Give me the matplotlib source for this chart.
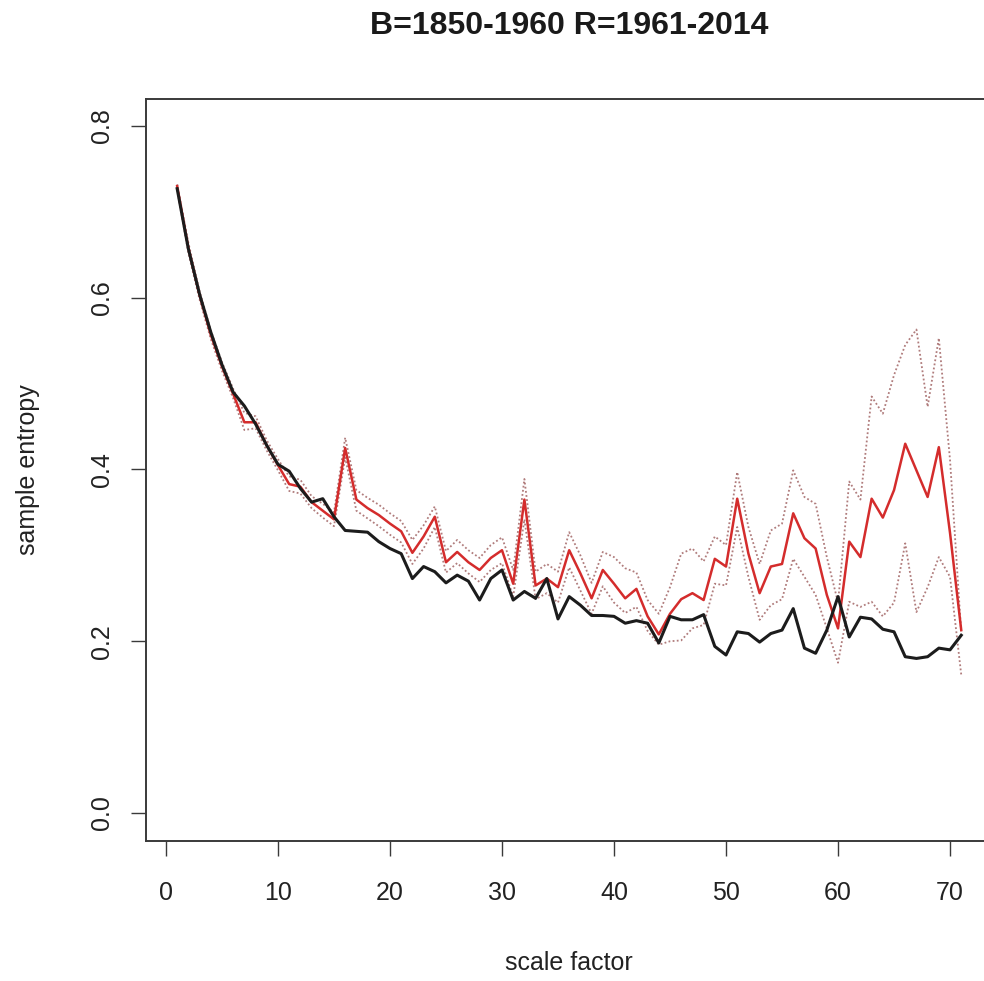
import matplotlib
matplotlib.use('Agg')
import matplotlib.pyplot as plt

# scale factors 1..71
scale = list(range(1, 72))

# black curve (B = 1850-1960)
black_se = [0.727, 0.657, 0.604, 0.560, 0.522, 0.490, 0.474, 0.453, 0.428, 0.406,
            0.398, 0.378, 0.362, 0.366, 0.345, 0.329, 0.328, 0.327, 0.316, 0.308,
            0.302, 0.273, 0.287, 0.281, 0.268, 0.277, 0.270, 0.248, 0.273, 0.283,
            0.248, 0.258, 0.250, 0.273, 0.226, 0.252, 0.242, 0.230, 0.230, 0.229,
            0.221, 0.224, 0.221, 0.198, 0.229, 0.225, 0.225, 0.231, 0.194, 0.184,
            0.211, 0.209, 0.199, 0.209, 0.213, 0.238, 0.192, 0.186, 0.213, 0.252,
            0.205, 0.228, 0.226, 0.214, 0.211, 0.182, 0.180, 0.182, 0.192, 0.190,
            0.207]

# red curve (R = 1961-2014)
red_se = [0.730, 0.658, 0.603, 0.557, 0.520, 0.488, 0.455, 0.455, 0.428, 0.405,
          0.383, 0.380, 0.362, 0.352, 0.342, 0.425, 0.365, 0.355, 0.347, 0.337,
          0.328, 0.303, 0.322, 0.345, 0.292, 0.304, 0.292, 0.283, 0.297, 0.306,
          0.267, 0.365, 0.265, 0.273, 0.263, 0.306, 0.279, 0.250, 0.283, 0.267,
          0.250, 0.261, 0.229, 0.208, 0.232, 0.249, 0.256, 0.248, 0.296, 0.287,
          0.366, 0.302, 0.256, 0.287, 0.290, 0.349, 0.320, 0.308, 0.254, 0.215,
          0.316, 0.298, 0.366, 0.344, 0.376, 0.430, 0.399, 0.368, 0.426, 0.326,
          0.213]

# dotted bands round the red curve
red_upper = [0.732, 0.664, 0.608, 0.562, 0.525, 0.494, 0.466, 0.462, 0.434, 0.412,
             0.392, 0.388, 0.369, 0.360, 0.350, 0.437, 0.376, 0.367, 0.359, 0.349,
             0.340, 0.318, 0.335, 0.357, 0.305, 0.318, 0.306, 0.297, 0.312, 0.321,
             0.283, 0.389, 0.281, 0.290, 0.281, 0.327, 0.300, 0.268, 0.304, 0.298,
             0.285, 0.280, 0.248, 0.232, 0.263, 0.302, 0.308, 0.293, 0.322, 0.312,
             0.397, 0.333, 0.290, 0.329, 0.337, 0.399, 0.368, 0.360, 0.298, 0.245,
             0.386, 0.365, 0.485, 0.465, 0.510, 0.545, 0.563, 0.473, 0.553, 0.411,
             0.210]
red_lower = [0.726, 0.652, 0.598, 0.552, 0.515, 0.483, 0.446, 0.448, 0.422, 0.399,
             0.375, 0.372, 0.355, 0.344, 0.334, 0.414, 0.352, 0.343, 0.334, 0.324,
             0.315, 0.290, 0.308, 0.333, 0.280, 0.291, 0.279, 0.269, 0.283, 0.291,
             0.252, 0.342, 0.249, 0.256, 0.245, 0.286, 0.259, 0.232, 0.264, 0.245,
             0.233, 0.240, 0.212, 0.196, 0.200, 0.201, 0.215, 0.219, 0.267, 0.265,
             0.333, 0.275, 0.225, 0.242, 0.249, 0.296, 0.275, 0.254, 0.215, 0.175,
             0.246, 0.240, 0.246, 0.229, 0.245, 0.314, 0.234, 0.263, 0.298, 0.275,
             0.161]

x_ticks = [0, 10, 20, 30, 40, 50, 60, 70]
y_ticks = [0.0, 0.2, 0.4, 0.6, 0.8]

plt.rcParams['font.family'] = ['Liberation Sans', 'DejaVu Sans']

W, H = 984, 981
fig = plt.figure(figsize=(W / 100, H / 100), dpi=100)
# R style plot region, right edge runs past the picture
ax = fig.add_axes([145.8 / W, 1 - 840.5 / H, (992.6 - 145.8) / W, (840.5 - 98.5) / H])

dot = (0, (1.0, 1.3))
ax.plot(scale, red_upper, color='#b07c7c', lw=1.3, ls=dot)
ax.plot(scale, red_lower, color='#b07c7c', lw=1.3, ls=dot)
ax.plot(scale, red_se, color='#d42c2c', lw=1.8)
ax.plot(scale, black_se, color='#1c1c1c', lw=2.2)

ax.set_xlim(-1.8, 73.8)
ax.set_ylim(-0.032, 0.832)
ax.set_xticks(x_ticks)
ax.set_yticks(y_ticks)
ax.set_xticklabels([str(v) for v in x_ticks])
ax.set_yticklabels([f'{v:.1f}' for v in y_ticks], rotation=90, va='center')

for sp in ax.spines.values():
    sp.set_color('#3a3a3a')
    sp.set_linewidth(1.4)
ax.tick_params(axis='both', direction='out', length=11, width=1.0, color='#3a3a3a',
               labelsize=18, labelcolor='#222222')
ax.tick_params(axis='x', pad=18)
ax.tick_params(axis='y', pad=12)

# titles placed like R's margin lines
fig.text(569 / W, 1 - 26 / H, 'B=1850-1960 R=1961-2014', ha='center', va='center',
         fontsize=23, fontweight='bold', color='#1a1a1a')
fig.text(569 / W, 1 - 963 / H, 'scale factor', ha='center', va='center',
         fontsize=18, color='#222222')
fig.text(28 / W, 1 - 469.5 / H, 'sample entropy', ha='center', va='center',
         rotation=90, fontsize=18, color='#222222')

fig.savefig('out.png', dpi=100)
